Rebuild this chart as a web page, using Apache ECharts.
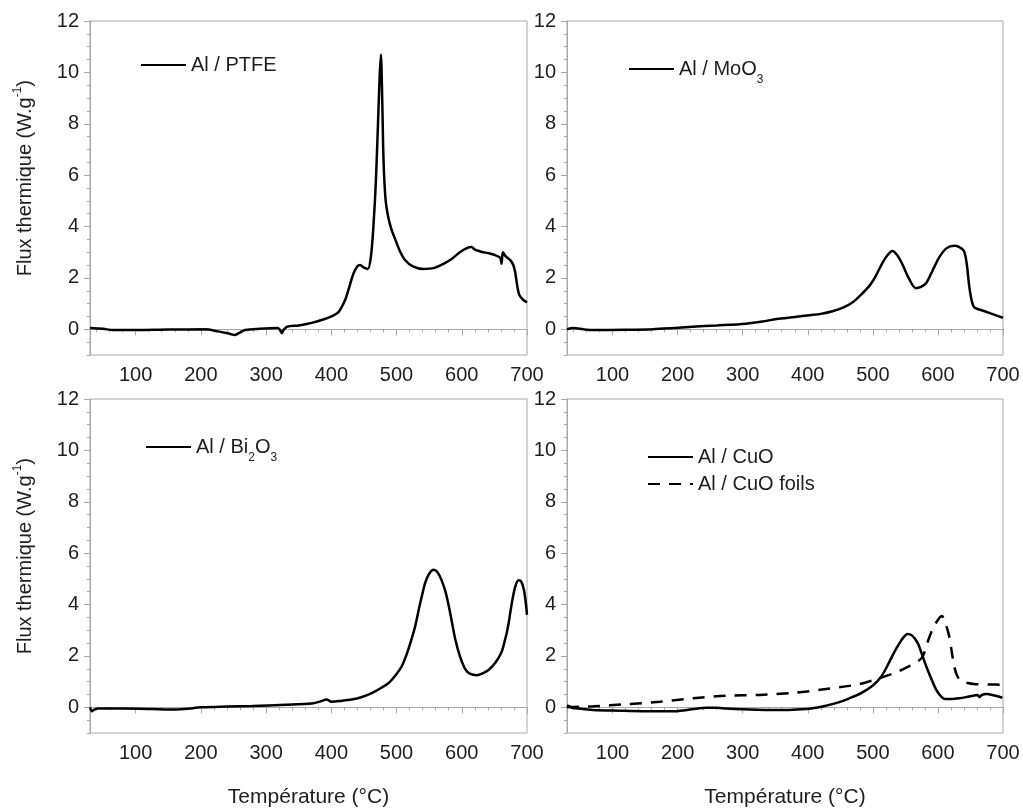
<!DOCTYPE html>
<html>
<head>
<meta charset="utf-8">
<title>Flux thermique</title>
<script src="https://cdn.jsdelivr.net/npm/echarts@6/dist/echarts.min.js"></script>
<style>
  html, body { margin: 0; padding: 0; background: #fff; }
  #chart { width: 1023px; height: 812px; }
</style>
</head>
<body>
<div id="chart"></div>
<script>
// [température °C, flux W/g]
const alPtfe = [
  [30, 0.05], [50, 0.02], [65, -0.03], [100, -0.03], [150, -0.01], [206, 0], [226, -0.08],
  [245, -0.18], [252, -0.22], [258, -0.15], [268, -0.03], [290, 0.02], [318, 0.05], [322, -0.05],
  [324, -0.15], [327, -0.02], [332, 0.1], [350, 0.15], [370, 0.25], [390, 0.4], [400, 0.5],
  [411, 0.67], [421, 1.13], [426, 1.52], [434, 2.17], [440, 2.45], [444, 2.5], [450, 2.4],
  [456, 2.35], [461, 2.9], [465, 4.2], [468, 5.6], [471, 7.6], [474, 9.8], [476, 10.7],
  [478, 9.0], [480, 6.6], [483, 5.1], [487, 4.4], [492, 3.9], [498, 3.5], [505, 3.05],
  [513, 2.7], [525, 2.45], [541, 2.35], [557, 2.38], [572, 2.55], [585, 2.75], [597, 3.0],
  [607, 3.15], [615, 3.2], [620, 3.1], [630, 3.02], [643, 2.95], [652, 2.88], [659, 2.78],
  [661, 2.55], [663, 3.0], [667, 2.85], [674, 2.7], [679, 2.5], [682, 2.2], [685, 1.7],
  [688, 1.35], [694, 1.15], [700, 1.05]
];
const alMoo3 = [
  [30, 0], [40, 0.05], [55, 0], [70, -0.03], [120, -0.02], [162, 0], [190, 0.04], [223, 0.1],
  [260, 0.15], [305, 0.22], [330, 0.3], [352, 0.4], [380, 0.48], [403, 0.55], [420, 0.6],
  [438, 0.7], [455, 0.85], [469, 1.05], [482, 1.35], [495, 1.7], [505, 2.1], [515, 2.6],
  [523, 2.9], [530, 3.05], [537, 2.9], [545, 2.55], [555, 2.0], [566, 1.6], [574, 1.65],
  [582, 1.8], [592, 2.3], [602, 2.8], [613, 3.15], [625, 3.25], [633, 3.2], [640, 3.05],
  [644, 2.6], [648, 1.7], [652, 1.1], [656, 0.85], [666, 0.75], [683, 0.6], [700, 0.45]
];
const alBi2o3 = [
  [30, 0], [33, -0.15], [36, -0.1], [42, -0.05], [80, -0.05], [125, -0.07], [150, -0.09],
  [175, -0.07], [201, 0], [240, 0.03], [278, 0.05], [330, 0.1], [370, 0.15], [382, 0.22],
  [393, 0.3], [400, 0.22], [415, 0.25], [431, 0.3], [447, 0.4], [462, 0.55], [476, 0.75],
  [488, 0.95], [500, 1.3], [508, 1.6], [516, 2.1], [523, 2.65], [529, 3.2], [534, 3.8],
  [539, 4.35], [544, 4.85], [550, 5.2], [557, 5.35], [563, 5.25], [569, 4.95], [575, 4.5],
  [580, 3.95], [585, 3.3], [590, 2.65], [597, 2.0], [605, 1.5], [613, 1.3], [623, 1.25],
  [632, 1.32], [641, 1.45], [652, 1.75], [661, 2.15], [665, 2.5], [669, 2.9], [672, 3.3],
  [677, 4.1], [682, 4.7], [687, 4.95], [691, 4.9], [695, 4.6], [698, 4.1], [700, 3.6]
];
const alCuo = [
  [30, 0.07], [35, 0.02], [40, -0.03], [70, -0.1], [110, -0.13], [147, -0.15], [198, -0.15],
  [222, -0.08], [244, -0.02], [260, -0.02], [275, -0.05], [300, -0.08], [336, -0.1], [370, -0.1],
  [398, -0.07], [415, -0.01], [428, 0.06], [446, 0.18], [464, 0.35], [482, 0.55], [500, 0.85],
  [513, 1.2], [525, 1.75], [533, 2.15], [541, 2.5], [548, 2.75], [553, 2.85], [560, 2.8],
  [569, 2.5], [575, 2.1], [582, 1.6], [590, 1.1], [597, 0.7], [605, 0.42], [612, 0.32],
  [622, 0.32], [633, 0.35], [648, 0.42], [661, 0.48], [664, 0.4], [667, 0.47], [674, 0.52],
  [687, 0.46], [699, 0.37]
];
const alCuoFoils = [
  [30, 0.0], [70, 0.04], [122, 0.12], [173, 0.22], [224, 0.35], [275, 0.45], [326, 0.48],
  [377, 0.56], [428, 0.71], [479, 0.9], [510, 1.13], [535, 1.35], [556, 1.6], [570, 1.8],
  [577, 2.0], [585, 2.6], [592, 3.05], [600, 3.4], [606, 3.55], [611, 3.3], [617, 2.8],
  [621, 2.2], [625, 1.6], [630, 1.2], [638, 1.0], [658, 0.9], [680, 0.89], [699, 0.88]
];

const xTickLabels = [100, 200, 300, 400, 500, 600, 700];
const yTickLabels = [0, 2, 4, 6, 8, 10, 12];

const FONT = "'Liberation Sans', Arial, sans-serif";
const TEXT = '#1e1e1e';
const FRAME = '#a8a8a8';

// minor ticks every 20 °C and every 0.5 W/g
const xMinor = [];
for (let t = 40; t <= 700; t += 20) xMinor.push(t);
const yMinor = [];
for (let v = -1; v <= 12; v += 0.5) yMinor.push(v);

const panels = [
  {left: 90, top: 21, width: 437, height: 334, yName: true, xName: false},
  {left: 567, top: 21, width: 436, height: 334, yName: false, xName: false},
  {left: 90, top: 399, width: 437, height: 334, yName: true, xName: true},
  {left: 567, top: 399, width: 436, height: 334, yName: false, xName: true}
];

const curves = [
  {name: 'Al / PTFE', data: alPtfe, panel: 0, dashed: false},
  {name: 'Al / MoO3', data: alMoo3, panel: 1, dashed: false},
  {name: 'Al / Bi2O3', data: alBi2o3, panel: 2, dashed: false},
  {name: 'Al / CuO', data: alCuo, panel: 3, dashed: false},
  {name: 'Al / CuO foils', data: alCuoFoils, panel: 3, dashed: true}
];

// legend text with real subscripts
const legendLabels = {
  'Al / PTFE': '{n|Al / PTFE}{f| }',
  'Al / MoO3': '{n|Al / MoO}{s|3}{f| }',
  'Al / Bi2O3': '{n|Al / Bi}{s|2}{n|O}{s|3}{f| }',
  'Al / CuO': '{n|Al / CuO}',
  'Al / CuO foils': '{n|Al / CuO foils}'
};
const legendSpots = [
  {names: ['Al / PTFE'], left: 140, top: 55},
  {names: ['Al / MoO3'], left: 628, top: 59},
  {names: ['Al / Bi2O3'], left: 145, top: 437},
  {names: ['Al / CuO', 'Al / CuO foils'], left: 647, top: 447}
];

const grid = [], xAxis = [], yAxis = [];
panels.forEach((p, i) => {
  grid.push({
    left: p.left, top: p.top, width: p.width, height: p.height,
    show: true, borderColor: FRAME, borderWidth: 1, backgroundColor: 'transparent',
    containLabel: false, outerBoundsMode: 'none'
  });
  xAxis.push({
    type: 'value', gridIndex: i, position: 'bottom', min: 30, max: 700,
    axisLine: {show: true, lineStyle: {color: FRAME, width: 1}},
    axisTick: {show: true, length: 3, customValues: xMinor, lineStyle: {color: FRAME}},
    axisLabel: {customValues: xTickLabels, fontSize: 20, color: TEXT, fontFamily: FONT, margin: 10},
    splitLine: {show: false},
    name: p.xName ? 'Température (°C)' : '',
    nameLocation: 'middle', nameGap: 54,
    nameTextStyle: {fontSize: 21, color: TEXT, fontFamily: FONT}
  });
  xAxis.push({
    type: 'value', gridIndex: i, position: 'bottom', min: 30, max: 700,
    axisLine: {show: false},
    axisTick: {show: true, length: 6, customValues: xTickLabels, lineStyle: {color: FRAME}},
    axisLabel: {show: false},
    splitLine: {show: false}
  });
  yAxis.push({
    type: 'value', gridIndex: i, position: 'left', min: -1, max: 12,
    axisLine: {show: true, lineStyle: {color: FRAME, width: 1}},
    axisTick: {show: true, length: 3, customValues: yMinor, lineStyle: {color: FRAME}},
    axisLabel: {customValues: yTickLabels, fontSize: 20, color: TEXT, fontFamily: FONT, margin: 11},
    splitLine: {show: false},
    name: p.yName ? '{n|Flux thermique (W.g}{u|-1}{n|)}{f| }' : '',
    nameLocation: 'middle', nameGap: 52, nameRotate: 90,
    nameTextStyle: {
      fontSize: 20, color: TEXT, fontFamily: FONT, padding: [0, 0, 0, 20],
      rich: {
        n: {fontSize: 20, lineHeight: 20, color: TEXT, fontFamily: FONT},
        u: {fontSize: 12, lineHeight: 12, verticalAlign: 'top', color: TEXT, fontFamily: FONT},
        f: {fontSize: 1, lineHeight: 26}
      }
    }
  });
  yAxis.push({
    type: 'value', gridIndex: i, position: 'left', min: -1, max: 12,
    axisLine: {show: false},
    axisTick: {show: true, length: 6, customValues: yTickLabels, lineStyle: {color: FRAME}},
    axisLabel: {show: false},
    splitLine: {show: false}
  });
});

const legend = legendSpots.map(l => ({
  data: l.names, left: l.left, top: l.top, orient: 'vertical', padding: 0,
  itemWidth: 45, itemHeight: 14, itemGap: 7, selectedMode: false,
  itemStyle: {opacity: 0},
  lineStyle: {width: 2},
  formatter: name => legendLabels[name],
  textStyle: {
    fontSize: 20, color: TEXT, fontFamily: FONT,
    rich: {
      n: {fontSize: 20, lineHeight: 20, color: TEXT, fontFamily: FONT},
      s: {fontSize: 12, lineHeight: 12, verticalAlign: 'bottom', color: TEXT, fontFamily: FONT},
      f: {fontSize: 1, lineHeight: 34}
    }
  }
}));

const series = curves.map(c => ({
  name: c.name, type: 'line', data: c.data,
  xAxisIndex: c.panel * 2, yAxisIndex: c.panel * 2,
  symbol: 'none', smooth: 0.3,
  lineStyle: {color: '#000', width: 2.5, type: c.dashed ? [12, 9] : 'solid'},
  itemStyle: {color: '#000'},
  animation: false
}));

const chart = echarts.init(document.getElementById('chart'), null, {renderer: 'canvas'});
chart.setOption({
  backgroundColor: '#fff',
  animation: false,
  tooltip: {show: false},
  grid, xAxis, yAxis, legend, series
});
</script>
</body>
</html>
